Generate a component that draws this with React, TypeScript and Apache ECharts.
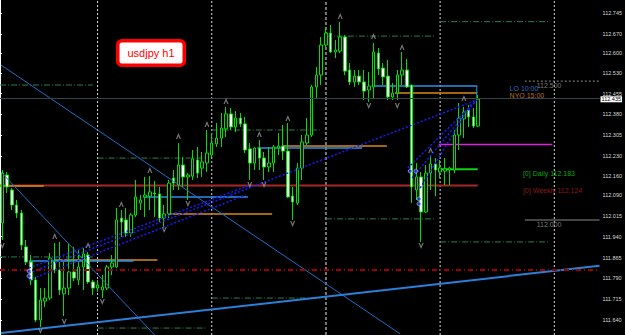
import React, { useEffect, useRef } from 'react';
import * as echarts from 'echarts';

// ---- Candles (hourly USDJPY) : open, close, low, high ----
const opens = [111.989,112.162,112.108,112.054,112.025,111.903,111.849,111.784,111.640,111.708,111.719,111.849,111.820,111.734,111.755,111.813,111.784,111.831,111.874,111.777,111.755,111.748,111.755,111.831,111.831,112.007,112.000,111.953,112.018,112.061,112.083,112.086,112.097,112.094,112.007,112.022,112.151,112.126,112.198,112.155,112.158,112.216,112.187,112.205,112.234,112.274,112.295,112.328,112.382,112.335,112.367,112.346,112.256,112.205,112.259,112.223,112.191,112.205,112.259,112.266,112.248,112.086,112.061,112.187,112.277,112.306,112.479,112.522,112.630,112.673,112.605,112.608,112.659,112.540,112.497,112.518,112.497,112.468,112.479,112.601,112.547,112.518,112.443,112.457,112.522,112.540,112.486,112.108,112.155,112.029,112.169,112.202,112.173,112.176,112.180,112.180,112.306,112.364,112.396,112.371,112.338];
const closes = [112.169,112.119,112.054,112.025,111.910,111.849,111.784,111.640,111.712,111.719,111.863,111.820,111.748,111.755,111.813,111.791,111.831,111.878,111.777,111.755,111.766,111.759,111.831,111.845,112.000,111.993,111.953,112.018,112.083,112.072,112.090,112.101,112.094,112.007,112.022,112.133,112.133,112.198,112.155,112.162,112.220,112.169,112.209,112.241,112.277,112.295,112.331,112.382,112.335,112.367,112.346,112.252,112.205,112.259,112.223,112.191,112.205,112.263,112.266,112.248,112.083,112.065,112.187,112.281,112.306,112.479,112.522,112.630,112.673,112.605,112.612,112.659,112.536,112.497,112.518,112.497,112.464,112.482,112.605,112.544,112.515,112.443,112.457,112.522,112.540,112.479,112.119,112.155,112.029,112.169,112.202,112.180,112.187,112.184,112.187,112.306,112.367,112.389,112.371,112.338,112.435];
const lows = [111.928,112.097,112.036,112.007,111.892,111.838,111.766,111.633,111.615,111.687,111.712,111.809,111.730,111.654,111.730,111.780,111.766,111.748,111.770,111.730,111.741,111.719,111.748,111.802,111.827,111.939,111.939,111.939,112.011,112.036,112.011,112.036,112.011,111.993,111.971,112.007,112.108,112.108,112.119,112.072,112.144,112.151,112.155,112.173,112.227,112.263,112.263,112.299,112.324,112.317,112.335,112.241,112.144,112.180,112.180,112.144,112.173,112.173,112.234,112.216,112.079,112.000,112.054,112.144,112.270,112.299,112.439,112.486,112.623,112.601,112.583,112.601,112.522,112.486,112.479,112.486,112.432,112.425,112.439,112.522,112.486,112.432,112.432,112.432,112.486,112.475,112.061,112.072,111.921,112.025,112.108,112.086,112.151,112.126,112.126,112.169,112.252,112.295,112.335,112.331,112.335];
const highs = [112.180,112.173,112.115,112.072,112.036,111.928,111.874,111.795,111.755,111.755,111.881,111.917,111.921,111.849,111.917,111.903,111.892,111.899,111.885,111.784,111.784,111.802,111.838,111.874,112.043,112.036,112.043,112.025,112.144,112.090,112.155,112.158,112.140,112.119,112.054,112.144,112.180,112.277,112.227,112.169,112.252,112.263,112.245,112.324,112.313,112.349,112.385,112.407,112.403,112.392,112.385,112.371,112.277,112.263,112.288,112.245,112.263,112.270,112.313,112.342,112.349,112.119,112.205,112.306,112.367,112.486,112.551,112.659,112.695,112.702,112.648,112.713,112.666,112.565,112.540,112.540,112.540,112.533,112.637,112.619,112.565,112.576,112.493,112.540,112.605,112.580,112.486,112.205,112.173,112.198,112.234,112.223,112.216,112.223,112.191,112.324,112.421,112.407,112.414,112.403,112.450];

const SLOTS = 126;
const Y_MIN = 111.586;
const Y_MAX = 112.792;
const priceTicks = [112.745,112.670,112.600,112.530,112.455,112.380,112.305,112.230,112.160,112.090,112.015,111.940,111.865,111.790,111.715,111.640];
const lastPrice = 112.435;

// fractal arrows (bar index, price)
const upArrowBars = [11,18,25,31,37,43,47,54,60,71,78,84,90,97];
const upArrowPrices = [111.942,111.910,112.058,112.180,112.302,112.346,112.428,112.310,112.367,112.734,112.662,112.623,112.252,112.439];
const downArrowBars = [0,8,13,21,34,39,52,55,61,77,83,88];
const downArrowPrices = [111.906,111.600,111.633,111.705,111.964,112.058,112.126,112.126,111.986,112.410,112.410,111.906];

// day separators (bar index)
const separatorBars = [20,44,68,92,116];
// previous-day high/low segments (bar positions)
const dayStart = [0,20.5,44.5,68.5,92.5];
const dayEnd = [19.5,43.5,67.5,91.5,115.5];
const dayHigh = [112.486,112.223,112.324,112.662,112.714];
const dayLow = [111.867,111.611,111.719,112.004,111.921];
// London open (blue) and New York open (orange) levels
const loStart = [6.1,30.1,54.1,78.1];
const loEnd = [28.1,52.1,76.1,100.3];
const loLevel = [111.852,112.083,112.259,112.482];
const nyStart = [0,11.5,35.4,59.3,83.0];
const nyEnd = [9.2,33.1,57.2,81.3,100.3];
const nyLevel = [112.122,111.856,112.022,112.266,112.457];
// pivot levels
const weeklyLevel = 112.124;
const dailyLevel = 112.183;
const magentaLevel = 112.272;
const redDashLevel = 111.817;
const round500 = 112.500;
const round000 = 112.000;
// trendlines [x1, p1, x2, p2]
const thinTrends = [[0.2,112.558,84.1,111.590],[0.2,112.173,32.5,111.586]];
const baseTrend = [0.2,111.593,126,111.835];
const dottedTrends = [[6.1,111.809,100.2,112.432],[6.1,111.827,52.6,112.126],[6.1,111.784,51.6,112.090],[85.7,112.187,100.2,112.432],[86.6,112.151,100.2,112.432],[88.3,112.115,99.2,112.421]];
const blueMarkers = [[6.1,111.816],[6.1,111.798],[86.2,112.176],[87.4,112.176],[88.05,112.076],[88.05,112.058]];

const FONT = 'Liberation Sans, Arial, sans-serif';

function seg(x1: number, p1: number, x2: number, p2: number, lineStyle: any, z = 1) {
  return { type: 'line', xAxisIndex: 1, yAxisIndex: 0, data: [[x1, p1], [x2, p2]], symbol: 'none', silent: true, lineStyle, z };
}

function textPoint(x: number, p: number, text: string, color: string, fontSize = 7) {
  return { value: [x, p], label: { show: true, position: 'right', distance: 0, formatter: text, color, fontSize, fontFamily: FONT } };
}

export default function App() {
  const ref = useRef<HTMLDivElement>(null);
  useEffect(() => {
    document.body.style.margin = '0';
    document.body.style.background = '#000';
    const chart = echarts.init(ref.current!, null, { renderer: 'svg' });
    const cats = Array.from({ length: SLOTS }, (_, i) => String(i));
    const candles = opens.map((o, i) => [o, closes[i], lows[i], highs[i]]);
    const series: any[] = [];

    separatorBars.forEach((b) => {
      const grey = b === 68;
      series.push(seg(b + 0.5, Y_MIN, b + 0.5, Y_MAX, grey ? { color: '#7a7a7a', width: 2, type: [3, 2] } : { color: '#d8d8d8', width: 1, type: [2, 2] }, 1));
    });
    dayStart.forEach((s, k) => {
      series.push(seg(s, dayHigh[k], dayEnd[k], dayHigh[k], { color: '#2e7d4f', width: 1, type: [6, 2, 1, 2] }, 1));
      series.push(seg(s, dayLow[k], dayEnd[k], dayLow[k], { color: '#2e7d4f', width: 1, type: [6, 2, 1, 2] }, 1));
    });
    series.push(seg(0, weeklyLevel, 100.4, weeklyLevel, { color: '#a8282a', width: 2 }, 1));
    nyStart.forEach((s, k) => series.push(seg(s, nyLevel[k], nyEnd[k], nyLevel[k], { color: '#d98a1c', width: 1.5 }, 1)));
    loStart.forEach((s, k) => series.push(seg(s, loLevel[k], loEnd[k], loLevel[k], { color: '#2f8fe8', width: 1.5 }, 1)));
    series.push(seg(100.2, loLevel[3], 100.2, lastPrice, { color: '#2f8fe8', width: 1 }, 1));
    series.push(seg(92.2, dailyLevel, 100.4, dailyLevel, { color: '#10d010', width: 2 }, 1));
    series.push(seg(92.2, magentaLevel, 116.1, magentaLevel, { color: '#e020e0', width: 1.5 }, 1));
    series.push(seg(110.3, round500, 126, round500, { color: '#8a8a8a', width: 1, type: [2, 2] }, 1));
    series.push(seg(110.3, round000, 126, round000, { color: '#8a8a8a', width: 1 }, 1));

    series.push({
      type: 'candlestick', xAxisIndex: 0, yAxisIndex: 0, data: candles, barWidth: 3, z: 3, silent: true,
      itemStyle: { color: '#000', color0: '#fff', borderColor: '#00e000', borderColor0: '#00e000', borderWidth: 1 },
      markLine: {
        symbol: 'none', silent: true, animation: false,
        data: [
          { yAxis: lastPrice, lineStyle: { color: '#34444c', width: 1, type: 'solid' },
            label: { show: true, position: 'end', distance: 1, offset: [0, 1.5], formatter: lastPrice.toFixed(3), backgroundColor: '#fff', color: '#000', fontSize: 5.5, lineHeight: 6, fontFamily: FONT, padding: [0, 1, 0, 1] } },
          { yAxis: redDashLevel, lineStyle: { color: '#a00000', width: 2, type: [5, 3, 1, 3] }, label: { show: false } },
        ],
      },
    });

    thinTrends.forEach((t) => series.push(seg(t[0], t[1], t[2], t[3], { color: '#1f6fc4', width: 1 }, 4)));
    series.push(seg(baseTrend[0], baseTrend[1], baseTrend[2], baseTrend[3], { color: '#2a7fd8', width: 2 }, 4));
    dottedTrends.forEach((t) => series.push(seg(t[0], t[1], t[2], t[3], { color: '#1a1aff', width: 1.5, type: [2, 2] }, 4)));

    series.push({
      type: 'scatter', xAxisIndex: 0, yAxisIndex: 0, silent: true, z: 5,
      symbol: 'path://M4,0 L8,8 L6,8 L4,4 L2,8 L0,8 Z', symbolSize: [5, 6],
      itemStyle: { color: '#959595' },
      data: upArrowBars.map((b, i) => [b, upArrowPrices[i]]),
    });
    series.push({
      type: 'scatter', xAxisIndex: 0, yAxisIndex: 0, silent: true, z: 5,
      symbol: 'path://M0,0 L2,0 L4,4 L6,0 L8,0 L4,8 Z', symbolSize: [5, 6],
      itemStyle: { color: '#959595' },
      data: downArrowBars.map((b, i) => [b, downArrowPrices[i]]),
    });
    series.push({
      type: 'scatter', xAxisIndex: 1, yAxisIndex: 0, silent: true, z: 5, symbol: 'circle', symbolSize: 4,
      itemStyle: { color: '#2030ff', borderColor: '#ffffff', borderWidth: 0.6 },
      data: blueMarkers,
    });
    series.push({
      type: 'scatter', xAxisIndex: 1, yAxisIndex: 0, silent: true, z: 6, symbolSize: 0,
      data: [
        textPoint(107.1, 112.473, 'LO 10:00', '#3a8ee6'),
        textPoint(107.1, 112.448, 'NYO 15:00', '#e08a1a'),
        textPoint(112.8, 112.484, '112.500', '#9a9a9a'),
        textPoint(112.8, 111.984, '112.000', '#9a9a9a'),
        textPoint(109.9, 112.167, '[0] Daily ' + dailyLevel.toFixed(3), '#10d010'),
        textPoint(109.9, 112.108, '[0] Weekly ' + weeklyLevel.toFixed(3), '#b02020'),
      ],
    });

    chart.setOption({
      backgroundColor: '#000',
      animation: false,
      grid: { left: -1, right: 25, top: 0, bottom: 0 },
      xAxis: [
        { type: 'category', data: cats, boundaryGap: true, show: false },
        { type: 'value', min: 0, max: SLOTS, show: false },
      ],
      yAxis: {
        type: 'value', position: 'right', min: Y_MIN, max: Y_MAX,
        axisLine: { show: true, lineStyle: { color: '#ffffff', width: 1 } },
        axisTick: { show: true, length: 2, customValues: priceTicks, lineStyle: { color: '#ffffff' } },
        axisLabel: { customValues: priceTicks, color: '#d8d8d8', fontSize: 5.5, lineHeight: 6, margin: 3, fontFamily: FONT, formatter: (v: number) => v.toFixed(3) },
        splitLine: { show: false },
      },
      graphic: [
        {
          type: 'group', left: 116, top: 39,
          children: [
            { type: 'rect', shape: { x: 1.75, y: 1.75, width: 66.5, height: 24.5, r: 4 }, style: { fill: '#ffffff', stroke: '#ff0000', lineWidth: 3.5 } },
            { type: 'text', x: 35, y: 14, style: { text: 'usdjpy h1', fill: '#ff0000', font: '11px ' + FONT, align: 'center', verticalAlign: 'middle' } },
          ],
        },
      ],
      series,
    });
    return () => chart.dispose();
  }, []);
  return <div ref={ref} style={{ width: 625, height: 335, background: '#000' }} />;
}
